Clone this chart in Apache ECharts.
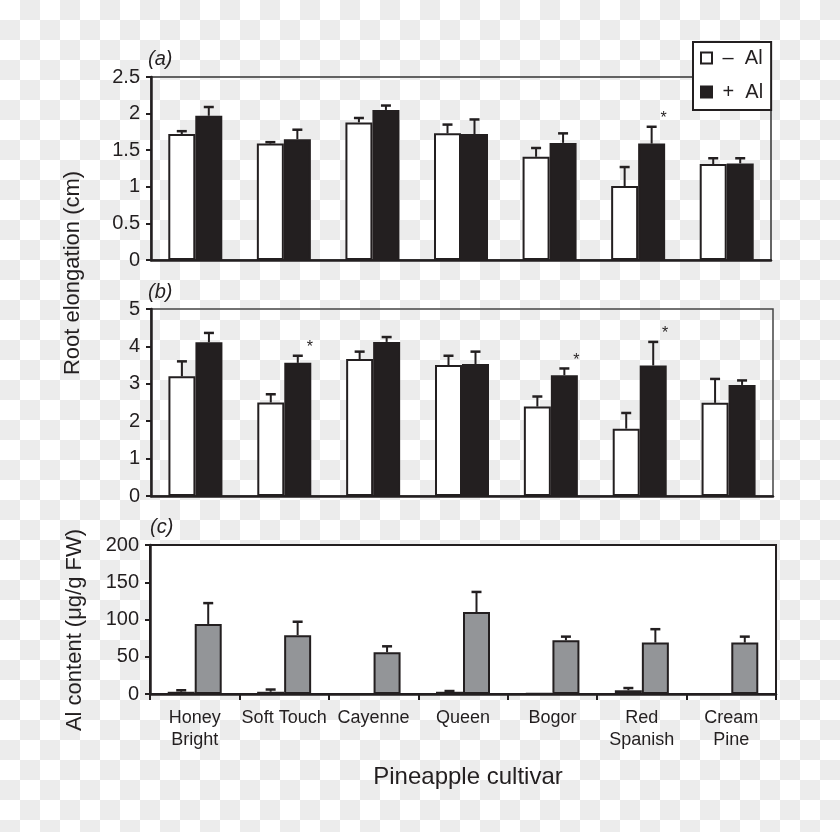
<!DOCTYPE html>
<html>
<head>
<meta charset="utf-8">
<script src="https://cdn.jsdelivr.net/npm/echarts@6/dist/echarts.min.js"></script>
<style>
html,body{margin:0;padding:0;}
body{background:repeating-conic-gradient(#ececec 0% 25%, #ffffff 0% 50%) 0 0 / 40px 40px;}
#chart{width:840px;height:832px;}
</style>
</head>
<body>
<div id="chart"></div>
<script>
// ---------- data ----------
const categories = ['Honey\nBright', 'Soft Touch', 'Cayenne', 'Queen', 'Bogor', 'Red\nSpanish', 'Cream\nPine'];
const legendNames = ['–  Al', '+  Al'];

// (a) root elongation, cm
const aMinus = [1.72, 1.59, 1.88, 1.73, 1.41, 1.01, 1.31];
const aMinusSE = [0.04, 0.02, 0.06, 0.12, 0.12, 0.26, 0.08];
const aPlus = [1.97, 1.65, 2.05, 1.72, 1.60, 1.59, 1.32];
const aPlusSE = [0.12, 0.13, 0.06, 0.20, 0.13, 0.23, 0.07];
const aPlusSig = [0, 0, 0, 0, 0, 1, 0];

// (b) root elongation, cm
const bMinus = [3.20, 2.50, 3.66, 3.50, 2.39, 1.80, 2.49];
const bMinusSE = [0.40, 0.22, 0.20, 0.25, 0.27, 0.42, 0.64];
const bPlus = [4.11, 3.56, 4.12, 3.53, 3.23, 3.49, 2.97];
const bPlusSE = [0.25, 0.19, 0.13, 0.33, 0.18, 0.63, 0.12];
const bPlusSig = [0, 1, 0, 0, 1, 1, 0];

// (c) Al content, ug/g FW
const cMinus = [3, 3, 0, 3, 1, 5, 0];
const cMinusSE = [2, 3, 0, 1, 0, 3, 0];
const cPlus = [94, 79, 56, 110, 72, 69, 69];
const cPlusSE = [28, 18, 8, 27, 5, 18, 8];

// tick labels
const yTicksA = [0, 0.5, 1, 1.5, 2, 2.5];
const yTicksB = [0, 1, 2, 3, 4, 5];
const yTicksC = [0, 50, 100, 150, 200];

// ---------- styles ----------
const FONT = "'Liberation Sans', Arial, Helvetica, sans-serif";
const INK = '#231f20';
const BAR_W = 27;

const chart = echarts.init(document.getElementById('chart'), null, {renderer: 'canvas'});

function errData(means, ses, sig) {
  return means.map((m, i) => [i, m + ses[i], m, sig ? sig[i] : 0, ses[i]]);
}

function errRender(offset) {
  return function (params, api) {
    const i = api.value(0), top = api.value(1), base = api.value(2), sig = api.value(3), se = api.value(4);
    const p0 = api.coord([i, base]);
    const p1 = api.coord([i, top]);
    const x = p0[0] + offset;
    const children = [];
    if (se > 0) {
      children.push({type: 'line', shape: {x1: x, y1: p0[1], x2: x, y2: p1[1]}, style: {stroke: INK, lineWidth: 2}});
      children.push({type: 'line', shape: {x1: x - 5, y1: p1[1], x2: x + 5, y2: p1[1]}, style: {stroke: INK, lineWidth: 2.5}});
    }
    if (sig) {
      children.push({type: 'text', x: x + 12, y: p1[1] - 8, style: {text: '*', fill: INK, font: '16px ' + FONT, align: 'center', verticalAlign: 'middle'}});
    }
    return {type: 'group', children: children};
  };
}

function yAxisFor(ticks, gridIndex) {
  return {
    type: 'value', gridIndex: gridIndex,
    min: ticks[0], max: ticks[ticks.length - 1], interval: ticks[1] - ticks[0],
    axisLine: {show: true, lineStyle: {color: INK, width: 2.5}},
    axisTick: {show: true, length: 5, lineStyle: {color: INK, width: 2}},
    axisLabel: {color: INK, fontSize: 20, fontFamily: FONT, margin: 11},
    splitLine: {show: false}
  };
}

function xAxisFor(gridIndex, withLabels) {
  return {
    type: 'category', gridIndex: gridIndex, data: categories,
    axisLine: {show: true, lineStyle: {color: INK, width: 2.5}},
    axisTick: {show: withLabels, length: 6, lineStyle: {color: INK, width: 2}},
    axisLabel: withLabels ? {show: true, color: INK, fontSize: 18, fontFamily: FONT, margin: 13, lineHeight: 22, interval: 0} : {show: false}
  };
}

function barSeries(name, data, gi, color) {
  return {
    type: 'bar', name: name, xAxisIndex: gi, yAxisIndex: gi, data: data,
    barWidth: BAR_W, barGap: '0%',
    itemStyle: {color: color, borderColor: INK, borderWidth: 2},
    emphasis: {disabled: true}, z: 2
  };
}

function errSeries(data, gi, offset) {
  return {
    type: 'custom', xAxisIndex: gi, yAxisIndex: gi, data: data,
    renderItem: errRender(offset), encode: {x: 0, y: 1}, z: 3, silent: true
  };
}

const option = {
  backgroundColor: 'transparent',
  animation: false,
  textStyle: {fontFamily: FONT},
  grid: [
    {left: 151, right: 69, top: 77, height: 183, show: true, borderColor: '#333', borderWidth: 1.5, backgroundColor: 'transparent'},
    {left: 151, right: 67, top: 309, height: 187, show: true, borderColor: '#444', borderWidth: 1.5, backgroundColor: 'transparent'},
    {left: 150, right: 64, top: 545, height: 149, show: true, borderColor: INK, borderWidth: 2, backgroundColor: '#ffffff'}
  ],
  xAxis: [xAxisFor(0, false), xAxisFor(1, false), xAxisFor(2, true)],
  yAxis: [yAxisFor(yTicksA, 0), yAxisFor(yTicksB, 1), yAxisFor(yTicksC, 2)],
  legend: {
    data: legendNames, orient: 'vertical', left: 693, top: 42,
    padding: [6, 8, 8, 7], itemGap: 14, itemWidth: 11, itemHeight: 11,
    icon: 'rect',
    formatter: function (name) { return ' ' + name; },
    backgroundColor: '#ffffff', borderColor: INK, borderWidth: 2,
    textStyle: {color: INK, fontSize: 20, fontFamily: FONT},
    selectedMode: false
  },
  graphic: [
    {type: 'text', x: 148, y: 59, style: {text: '(a)', font: 'italic 20px ' + FONT, fill: INK, verticalAlign: 'middle'}},
    {type: 'text', x: 148, y: 292, style: {text: '(b)', font: 'italic 20px ' + FONT, fill: INK, verticalAlign: 'middle'}},
    {type: 'text', x: 150, y: 527, style: {text: '(c)', font: 'italic 20px ' + FONT, fill: INK, verticalAlign: 'middle'}},
    {type: 'text', x: 73, y: 273, rotation: Math.PI / 2, style: {text: 'Root elongation (cm)', font: '22px ' + FONT, fill: INK, align: 'center', verticalAlign: 'middle'}},
    {type: 'text', x: 75, y: 630, rotation: Math.PI / 2, style: {text: 'Al content (μg/g FW)', font: '22px ' + FONT, fill: INK, align: 'center', verticalAlign: 'middle'}},
    {type: 'text', x: 468, y: 777, style: {text: 'Pineapple cultivar', font: '24px ' + FONT, fill: INK, align: 'center', verticalAlign: 'middle'}}
  ],
  series: [
    barSeries(legendNames[0], aMinus, 0, '#ffffff'),
    barSeries(legendNames[1], aPlus, 0, INK),
    errSeries(errData(aMinus, aMinusSE), 0, -BAR_W / 2),
    errSeries(errData(aPlus, aPlusSE, aPlusSig), 0, BAR_W / 2),

    barSeries('b-minus', bMinus, 1, '#ffffff'),
    barSeries('b-plus', bPlus, 1, INK),
    errSeries(errData(bMinus, bMinusSE), 1, -BAR_W / 2),
    errSeries(errData(bPlus, bPlusSE, bPlusSig), 1, BAR_W / 2),

    barSeries('c-minus', cMinus, 2, '#ffffff'),
    barSeries('c-plus', cPlus, 2, '#939598'),
    errSeries(errData(cMinus, cMinusSE), 2, -BAR_W / 2),
    errSeries(errData(cPlus, cPlusSE), 2, BAR_W / 2)
  ]
};

chart.setOption(option);
</script>
</body>
</html>
